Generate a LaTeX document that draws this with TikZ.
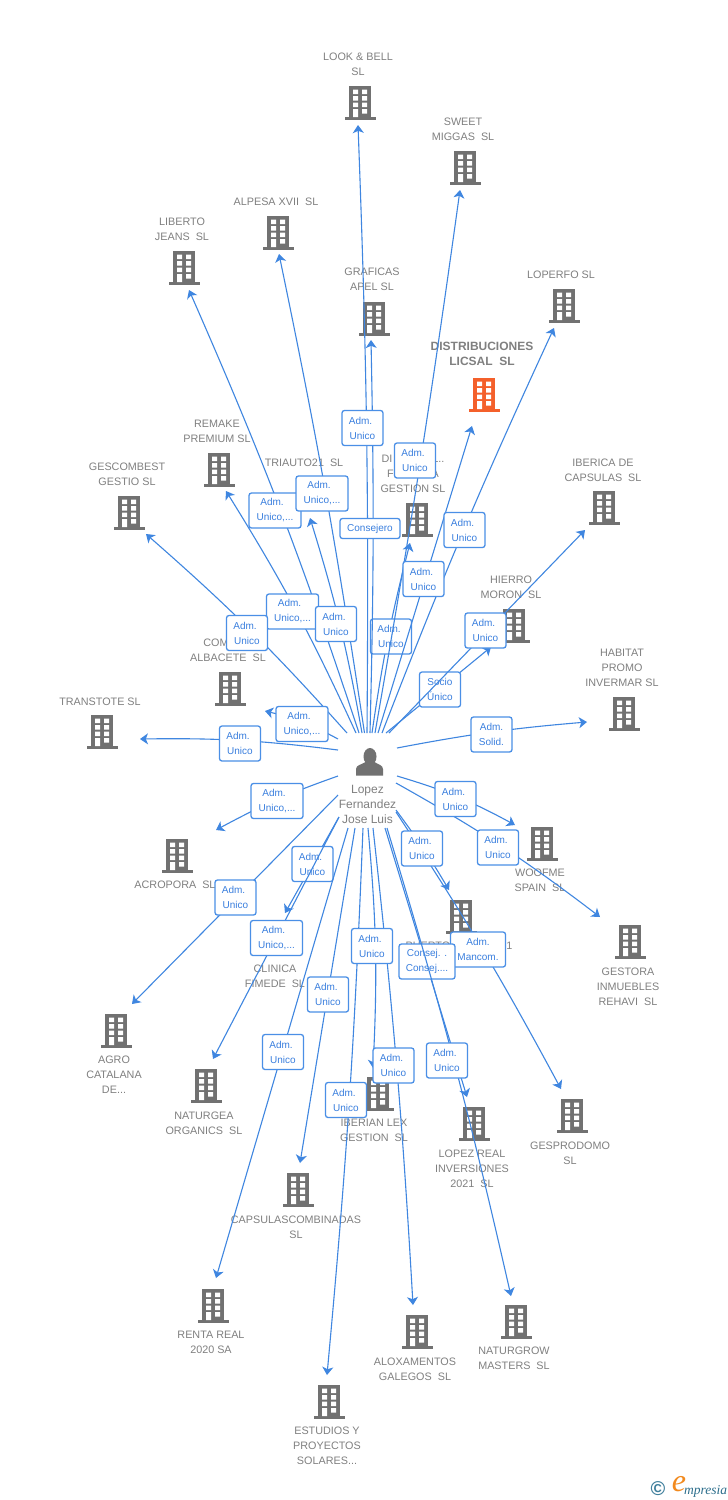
\documentclass[tikz,border=0pt]{standalone}
\usepackage{fontspec}
\setmainfont{Liberation Sans}
\newfontfamily\logofont{Liberation Serif}
\usetikzlibrary{arrows.meta}
\definecolor{bgray}{HTML}{717171}
\definecolor{bred}{HTML}{F4602B}
\definecolor{tgray}{HTML}{808080}
\definecolor{lblue}{HTML}{3F86E0}
\definecolor{bblue}{HTML}{4A8FE6}
\definecolor{xblue}{HTML}{3A7FDE}
\definecolor{teal1}{HTML}{3F7F9C}
\definecolor{teal2}{HTML}{2C6E8C}
\definecolor{orng}{HTML}{F28A1E}
\tikzset{
  conn/.style={draw=lblue,line width=1.1pt,-{Stealth[length=8pt,width=11pt,inset=2.2pt]}},
  lab/.style={fill=white,draw=bblue,line width=1.3pt,rounded corners=2.5pt,inner sep=0pt,text=xblue,
    align=center,font=\fontsize{10}{15}\selectfont,minimum width=41pt,minimum height=35pt},
  wlab/.style={lab,minimum width=52pt},
  txt/.style={text=tgray,align=center,inner sep=0pt,yshift=-0.7pt,font=\fontsize{10.8}{15}\selectfont},
  bodybox/.style={minimum width=22pt,minimum height=31pt,inner sep=0pt}
}
\newcommand{\bld}[4][bgray]{%
  \begin{scope}[shift={(#3,#4)}]
    \node[bodybox,fill=#1,anchor=center] (b-#2) at (0,-0.5) {};
    \fill[#1] (-15.5,15) rectangle (15.5,17.5);
    \fill[white] (-7,-12.5) rectangle (-2,-8) (2,-12.5) rectangle (7,-8)
      (-7,-6) rectangle (-2,-1.5) (2,-6) rectangle (7,-1.5)
      (-7,0.5) rectangle (-2,5) (2,0.5) rectangle (7,5)
      (-7,7) rectangle (-2,15) (2,7) rectangle (7,11.5);
  \end{scope}}
\newcommand{\conn}[4][]{%
  \coordinate (s-#2) at (#3);
  \coordinate (t-#2) at (#4);
  \draw[conn] (s-#2) to[#1] (t-#2);}
\newcommand{\lab}[4][lab]{\node[#1] (l-#2) at (#3) {#4};}
\begin{document}
\begin{tikzpicture}[x=1pt,y=-1pt]
\useasboundingbox (0,0) rectangle (728,1500);
\fill[white] (0,0) rectangle (728,1500);
% companies: labels and buildings
\node[txt] (n1) at (358,63.5) {LOOK \& BELL\\SL};
\bld{1}{360}{102}
\node[txt] (n2) at (463,128.5) {SWEET\\MIGGAS\ \ SL};
\bld{2}{465}{167}
\node[txt] (n3) at (276,201) {ALPESA XVII\ \ SL};
\bld{3}{278}{232}
\node[txt] (n4) at (182,228.5) {LIBERTO\\JEANS\ \ SL};
\bld{4}{184}{267}
\node[txt] (n5) at (372,278.5) {GRAFICAS\\APEL SL};
\bld{5}{374}{318}
\node[txt,font=\fontsize{12}{15}\selectfont\bfseries] (n6) at (482,353.5) {DISTRIBUCIONES\\LICSAL\ \ SL};
\bld[bred]{6}{484}{394}
\node[txt] (n7) at (561,274) {LOPERFO SL};
\bld{7}{564}{305}
\node[txt] (n8) at (217,430.5) {REMAKE\\PREMIUM SL};
\bld{8}{219}{469}
\node[txt] (n9) at (127,473.5) {GESCOMBEST\\GESTIO SL};
\bld{9}{129}{512}
\node[txt] (n10) at (304,462) {TRIAUTO21\ \ SL};
\node[txt] (n11) at (413,473) {DI\hspace{40pt}L..\\F\hspace{38pt}A\\GESTION SL};
\bld{11}{417}{519}
\node[txt] (n12) at (603,469.5) {IBERICA DE\\CAPSULAS\ \ SL};
\bld{12}{604}{507}
\node[txt] (n13) at (511,586.5) {HIERRO\\MORON\ \ SL};
\bld{13}{514}{625}
\node[txt] (n14) at (622,667) {HABITAT\\PROMO\\INVERMAR SL};
\bld{14}{624}{713}
\node[txt] (n15) at (228,649.5) {COM\kern24pt\\ALBACETE\ \ SL};
\bld{15}{230}{688}
\node[txt] (n16) at (100,701) {TRANSTOTE SL};
\bld{16}{102}{731}
\node[txt] (n17) at (175,884) {ACROPORA\ \ SL};
\bld{17}{177}{855}
\node[txt] (n18) at (540,879.5) {WOOFME\\SPAIN\ \ SL};
\bld{18}{542}{843}
\node[txt] (n19) at (275,975.5) {CLINICA\\FIMEDE\ \ SL};
\node[txt] (n20) at (459,945) {PUERTO\hspace{50pt}21};
\bld{20}{461}{916}
\node[txt] (n21) at (628,986) {GESTORA\\INMUEBLES\\REHAVI\ \ SL};
\bld{21}{630}{941}
\node[txt] (n22) at (114,1074) {AGRO\\CATALANA\\DE...};
\bld{22}{116}{1030}
\node[txt] (n23) at (204,1122.5) {NATURGEA\\ORGANICS\ \ SL};
\bld{23}{206}{1085}
\node[txt] (n24) at (374,1129.5) {IBERIAN LEX\\GESTION\ \ SL};
\bld{24}{378}{1093}
\node[txt] (n25) at (570,1152.5) {GESPRODOMO\\SL};
\bld{25}{572}{1115}
\node[txt] (n26) at (472,1168) {LOPEZ REAL\\INVERSIONES\\2021\ \ SL};
\bld{26}{474}{1123}
\node[txt] (n27) at (296,1226.5) {CAPSULASCOMBINADAS\\SL};
\bld{27}{298}{1189}
\node[txt] (n28) at (211,1341.5) {RENTA REAL\\2020 SA};
\bld{28}{213}{1305}
\node[txt] (n29) at (415,1368.5) {ALOXAMENTOS\\GALEGOS\ \ SL};
\bld{29}{417}{1331}
\node[txt] (n30) at (514,1357.5) {NATURGROW\\MASTERS\ \ SL};
\bld{30}{516}{1321}
\node[txt] (n31) at (327,1445) {ESTUDIOS Y\\PROYECTOS\\SOLARES...};
\bld{31}{329}{1401}
% person
\node[minimum width=28pt,minimum height=28pt,inner sep=0pt] (person) at (370,761.5) {};
\fill[bgray] (370,756.5) ellipse (6.5 and 8.5);
\fill[bgray] (356,775.5) -- (356,769) .. controls (356,765) and (362,764.5) .. (365.5,762) -- (374.5,762)
  .. controls (378,764.5) and (383,765) .. (383,769) -- (383,775.5) -- cycle;
\node[txt,font=\fontsize{12}{15}\selectfont] (pname) at (367.5,804) {Lopez\\Fernandez\\Jose Luis};
% connectors and labels drawn early: later lines run over these boxes
\conn[bend left=3]{11}{372,733}{410,543}
\lab{11}{391,636.5}{Adm.\kern4pt\\Unico}
\conn{13}{386,733}{491,647}
\lab{13}{440,689.5}{Socio\\Único}
\conn{19}{339,817}{285,913}
\lab{19}{312.5,864}{Adm.\kern4pt\\Unico}
\conn[bend left=2.5]{25}{396,812}{561,1089}
\lab[lab,minimum width=55pt]{25}{478,949.5}{Adm.\\Mancom.}
\conn{26}{385,828}{467,1097}
\lab[lab,minimum width=56pt]{26}{427,961.5}{Consej. .\\Consej....}
% remaining connectors
\conn[bend right=1.3]{1}{367,733}{358,125}
\conn[bend right=1]{2}{375,733}{460,190}
\conn[bend right=1.6]{3}{364.5,733}{279,254}
\conn[bend right=2.7]{4}{359,733}{189,290}
\conn[bend right=1.3]{5}{370,733}{371,340}
\conn{6}{378,733}{472,426}
\conn[bend left=1.8]{7}{382,733}{554,328}
\conn[bend right=3.6]{8}{356,733}{226,491}
\conn[bend right=3.5]{9}{362,733}{310,518}
\conn[bend right=3.5]{10}{347,733}{146,534}
\conn{12}{389,733}{585,530}
\conn[bend left=3]{14}{397,748}{587,722}
\conn[bend right=7.5]{15}{338,739}{265,711}
\conn[bend right=4]{16}{338,750}{140,739}
\conn[bend right=4.5]{17}{338,776}{216,830}
\conn{18}{338,795}{132,1004}
\conn{20}{339,817}{213,1059}
\conn{21}{355,828}{300,1163}
\conn{22}{348,828}{216,1278}
\conn[bend left=1.5]{23}{363,828}{327,1375}
\conn[bend left=4]{24}{368,828}{373,1068}
\conn[bend left=1.5]{27}{373,828}{413,1305}
\conn[bend left=2]{28}{387,828}{511,1296}
\conn[bend left=3]{29}{396,810}{449,890}
\conn[bend left=6]{30}{397,776}{515,825}
\conn[bend left=4]{31}{396,783}{600,917}
% remaining labels
\lab{1}{362.5,428}{Adm.\kern4pt\\Unico}
\lab{2}{415,460.5}{Adm.\kern4pt\\Unico}
\lab[wlab]{4}{275,510.5}{Adm.\kern6pt\\Unico,...}
\lab[wlab]{3}{322,493.5}{Adm.\kern6pt\\Unico,...}
\lab[lab,minimum width=60pt,minimum height=20pt]{5}{370,528.5}{Consejero}
\lab{7}{464.5,530}{Adm.\kern4pt\\Unico}
\lab{6}{423.5,579}{Adm.\kern4pt\\Unico}
\lab[wlab]{8}{292.5,611.5}{Adm.\kern6pt\\Unico,...}
\lab{9}{336,624}{Adm.\kern4pt\\Unico}
\lab{10}{247,633}{Adm.\kern4pt\\Unico}
\lab{12}{485.5,630.5}{Adm.\kern4pt\\Unico}
\lab{14}{491.5,734.5}{Adm.\\Solid.}
\lab[wlab]{15}{302,724}{Adm.\kern6pt\\Unico,...}
\lab{16}{240,743.5}{Adm.\kern4pt\\Unico}
\lab[wlab]{17}{277,801}{Adm.\kern6pt\\Unico,...}
\lab{18}{235.5,897.5}{Adm.\kern4pt\\Unico}
\lab[wlab]{20}{276.5,938}{Adm.\kern6pt\\Unico,...}
\lab{21}{328,994.5}{Adm.\kern4pt\\Unico}
\lab{22}{283,1052}{Adm.\kern4pt\\Unico}
\lab{23}{346,1100}{Adm.\kern4pt\\Unico}
\lab{24}{372,946}{Adm.\kern4pt\\Unico}
\lab{27}{393.5,1065.5}{Adm.\kern4pt\\Unico}
\lab{28}{447,1060.5}{Adm.\kern4pt\\Unico}
\lab{29}{422,848.5}{Adm.\kern4pt\\Unico}
\lab{30}{455.5,799}{Adm.\kern4pt\\Unico}
\lab{31}{498,847.5}{Adm.\kern4pt\\Unico}
% logo
\node[inner sep=0pt,text=teal1,font=\fontsize{20}{20}\selectfont\bfseries] (c1) at (658,1489) {©};
\node[inner sep=0pt,text=orng,font=\logofont\itshape\fontsize{32}{32}\selectfont] (c2) at (679,1484) {e};
\node[inner sep=0pt,text=teal2,anchor=west,font=\logofont\itshape\fontsize{13.5}{13.5}\selectfont] (c3) at (684,1491) {mpresia};
\end{tikzpicture}
\end{document}
